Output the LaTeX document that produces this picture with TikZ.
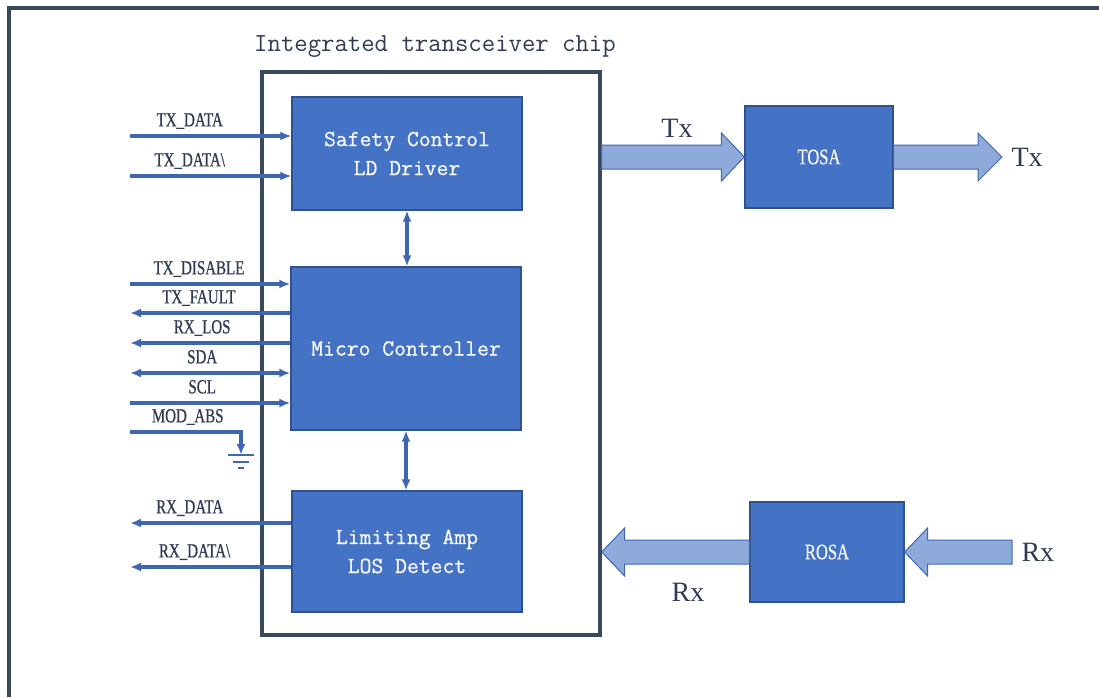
\documentclass[tikz,border=0pt]{standalone}
\usepackage{fontspec}
\setmainfont{Liberation Serif}
\newfontfamily\narrowfont[FakeStretch=0.75,FakeBold=0.6]{Liberation Serif}
\newfontfamily\boxfont[FakeBold=0.8]{Latin Modern Mono}
\usetikzlibrary{arrows.meta,calc,positioning}
\definecolor{boxblue}{HTML}{4472C4}
\definecolor{boxedge}{HTML}{2F528F}
\definecolor{wireblue}{HTML}{3F67B0}
\definecolor{chipedge}{HTML}{3A4A5E}
\definecolor{txtslate}{HTML}{2E3B52}
\definecolor{fatfill}{HTML}{8EAADB}
\tikzset{
  blk/.style={draw=boxedge, line width=1.2pt, fill=boxblue, text=white!95!boxblue,
    font=\boxfont\fontsize{23}{29}\selectfont, align=center, minimum width=230pt},
  osa/.style={blk, font=\narrowfont\fontsize{22}{24}\selectfont},
  sig/.style={draw=wireblue, line width=3.3pt},
  lbl/.style={text=txtslate, font=\narrowfont\fontsize{20}{22}\selectfont,
    inner sep=1pt, text depth=3pt, above=4pt},
  fatarrow/.style={draw=wireblue, line width=1pt, fill=fatfill},
  bigtx/.style={text=txtslate, font=\fontsize{28}{30}\selectfont}
}
% wide hollow arrow, #3 = head length (negative: points left)
\newcommand\fatarr[3]{%
  \draw[fatarrow] let \p1=(#1), \p2=(#2) in
    (\x1,{\y1+12pt}) -- ({\x2-(#3pt)},{\y1+12pt}) -- ({\x2-(#3pt)},{\y1+24pt})
    -- (\x2,\y1) -- ({\x2-(#3pt)},{\y1-24pt}) -- ({\x2-(#3pt)},{\y1-12pt})
    -- (\x1,{\y1-12pt}) -- cycle;}
\begin{document}
\begin{tikzpicture}[x=1pt,y=-1pt,>={Latex[length=11pt,width=9pt]}]
\useasboundingbox (0,0) rectangle (1099,697);
\draw[chipedge, line width=3.2pt] (9,697) -- (9,8) -- (1099,8);

% chip and blocks
\node[draw=chipedge, line width=3.2pt, minimum width=338pt, minimum height=563pt] (chip) at (431,353.5) {};
\node[text=txtslate, font=\ttfamily\fontsize{26}{28}\selectfont] (title) at (435,47) {Integrated transceiver chip};
\node[blk, minimum height=113pt] (sc) at (407,153.5) {Safety Control\\LD Driver};
\node[blk, minimum height=163pt] (mc) at (406,348.5) {Micro Controller};
\node[blk, minimum height=121pt] (la) at (407,551.5) {Limiting Amp\\LOS Detect};
\node[osa, minimum width=148pt, minimum height=102pt] (tosa) at (819,157) {TOSA};
\node[osa, minimum width=154pt, minimum height=100pt] (rosa) at (827,552) {ROSA};

\draw[sig,<->] (sc.south) -- (sc.south |- mc.north);
\draw[sig,<->] (mc.south) -- (mc.south |- la.north);

% optical paths
\coordinate (txout) at (1002,157);
\coordinate (rxin) at (1012,552);
\fatarr{chip.east |- tosa.west}{tosa.west}{23}
\fatarr{tosa.east}{txout}{24}
\fatarr{rxin}{rosa.east}{-23}
\fatarr{rosa.west}{chip.east |- rosa.west}{-23}
\node[bigtx] (txa) at (677,128) {Tx};
\node[bigtx, right=6pt of txout] (txb) {Tx};
\node[bigtx, right=6pt of rxin] (rxb) {Rx};
\node[bigtx] (rxa) at (688,592) {Rx};

% electrical pins
\coordinate (txd) at (130,136);
\coordinate (txdn) at (130,176);
\coordinate (txdis) at (130,284);
\coordinate (txf) at (130,313);
\coordinate (rxl) at (130,343);
\coordinate (sda) at (130,373);
\coordinate (scl) at (130,403);
\coordinate (mabs) at (130,432);
\coordinate (gnd) at (241,455);
\coordinate (rxd) at (130,523);
\coordinate (rxdn) at (130,567);
\draw[sig,->] (txd) -- (txd -| sc.west) node[lbl, pos=.37] (ltxd) {TX\_DATA};
\draw[sig,->] (txdn) -- (txdn -| sc.west) node[lbl, pos=.37] (ltxdn) {TX\_DATA\textbackslash};
\draw[sig,->] (txdis) -- (txdis -| mc.west) node[lbl, pos=.43] (ltxdis) {TX\_DISABLE};
\draw[sig,<-] (txf) -- (txf -| mc.west) node[lbl, pos=.43] (ltxf) {TX\_FAULT};
\draw[sig,<-] (rxl) -- (rxl -| mc.west) node[lbl, pos=.45] (lrxl) {RX\_LOS};
\draw[sig,<->] (sda) -- (sda -| mc.west) node[lbl, pos=.45] (lsda) {SDA};
\draw[sig,->] (scl) -- (scl -| mc.west) node[lbl, pos=.45] (lscl) {SCL};
\draw[sig,->] (mabs) -| (gnd) node[lbl, pos=.26] (lmabs) {MOD\_ABS};
\draw[sig, line width=2.6pt] ($(gnd)+(-13,0)$) -- ($(gnd)+(13,0)$);
\draw[sig, line width=2.6pt] ($(gnd)+(-8,7)$) -- ($(gnd)+(8,7)$);
\draw[sig, line width=2.6pt] ($(gnd)+(-3,13)$) -- ($(gnd)+(3,13)$);
\draw[sig,<-] (rxd) -- (rxd -| la.west) node[lbl, pos=.37] (lrxd) {RX\_DATA};
\draw[sig,<-] (rxdn) -- (rxdn -| la.west) node[lbl, pos=.40] (lrxdn) {RX\_DATA\textbackslash};
\end{tikzpicture}
\end{document}
